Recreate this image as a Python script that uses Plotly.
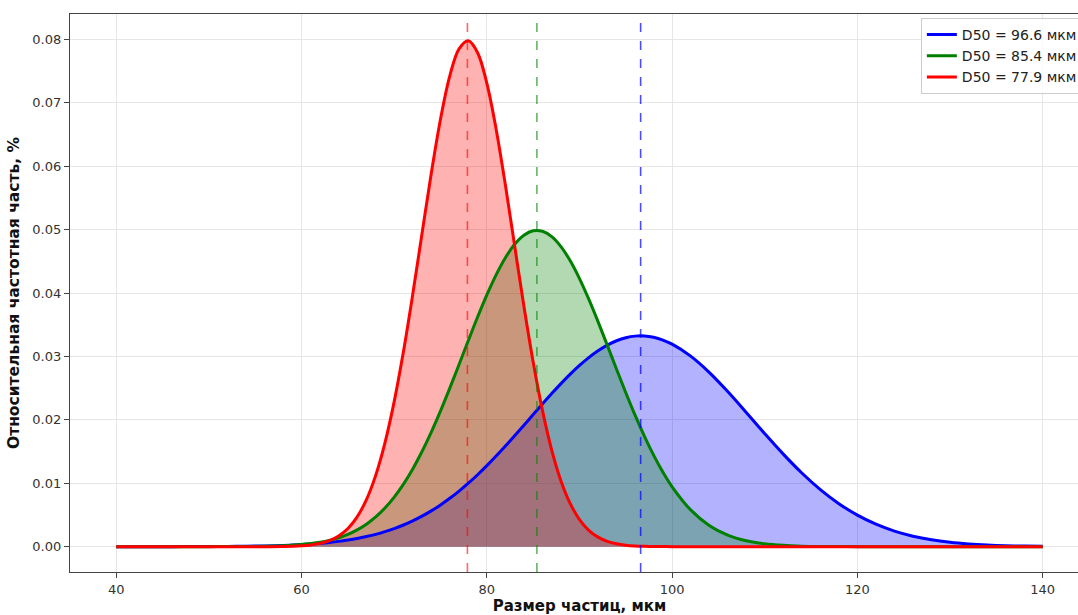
import plotly.graph_objects as go

# Sample positions (particle size, мкм)
x_vals = [40, 42, 44, 46, 48, 50, 52, 54, 56, 58,
          60, 61, 62, 63, 64, 65, 66, 67, 68, 69, 70, 71, 72, 73, 74, 75, 76, 77, 78, 79,
          80, 81, 82, 83, 84, 85, 86, 87, 88, 89, 90, 91, 92, 93, 94, 95, 96, 97, 98, 99, 100,
          102, 104, 106, 108, 110, 112, 114, 116, 118, 120, 122, 124, 126, 128, 130, 132, 134,
          136, 138, 140]

# Blue curve, D50 = 96.6
blue_vals = [0.0, 0.0, 0.0, 0.0, 0.00001, 0.00002, 0.00003, 0.00006, 0.00011, 0.00019,
             0.00032, 0.00041, 0.00052, 0.00066, 0.00083, 0.00104, 0.00129, 0.00159, 0.00194,
             0.00236, 0.00285, 0.00341, 0.00406, 0.00481, 0.00564, 0.00658, 0.00762, 0.00876,
             0.01000, 0.01134, 0.01277, 0.01428, 0.01586, 0.01749, 0.01915, 0.02083, 0.02250,
             0.02414, 0.02571, 0.02720, 0.02857, 0.02981, 0.03088, 0.03178, 0.03247, 0.03295,
             0.03320, 0.03322, 0.03301, 0.03258, 0.03193,
             0.03004, 0.02749, 0.02446, 0.02117, 0.01782, 0.01459, 0.01162, 0.00900, 0.00678,
             0.00497, 0.00354, 0.00245, 0.00165, 0.00108, 0.00069, 0.00043, 0.00026, 0.00015,
             0.00009, 0.00005]

# Green curve, D50 = 85.4
green_vals = [0.0, 0.0, 0.0, 0.0, 0.0, 0.0, 0.00001, 0.00002, 0.00006, 0.00014,
              0.00032, 0.00048, 0.00069, 0.00099, 0.00139, 0.00193, 0.00264, 0.00354, 0.00468,
              0.00610, 0.00782, 0.00987, 0.01226, 0.01500, 0.01807, 0.02142, 0.02500, 0.02873,
              0.03251, 0.03621, 0.03971, 0.04287, 0.04557, 0.04768, 0.04911, 0.04981, 0.04973,
              0.04888, 0.04731, 0.04507, 0.04227, 0.03903, 0.03549, 0.03176, 0.02798, 0.02428,
              0.02073, 0.01743, 0.01443, 0.01175, 0.00943,
              0.00579, 0.00334, 0.00181, 0.00092, 0.00044, 0.00020, 0.00008, 0.00003, 0.00001,
              0.0, 0.0, 0.0, 0.0, 0.0, 0.0, 0.0, 0.0, 0.0, 0.0, 0.0]

# Red curve, D50 = 77.9
red_vals = [0.0, 0.0, 0.0, 0.0, 0.0, 0.0, 0.0, 0.0, 0.0, 0.00002,
            0.00013, 0.00026, 0.00051, 0.00094, 0.00168, 0.00286, 0.00470, 0.00741, 0.01124,
            0.01637, 0.02291, 0.03080, 0.03979, 0.04938, 0.05888, 0.06745, 0.07424, 0.07851,
            0.07978, 0.07789, 0.07306, 0.06584, 0.05702, 0.04744, 0.03792, 0.02912, 0.02149,
            0.01523, 0.01037, 0.00679, 0.00427, 0.00258, 0.00150, 0.00083, 0.00045, 0.00023,
            0.00011, 0.00005, 0.00002, 0.00001, 0.0,
            0.0, 0.0, 0.0, 0.0, 0.0, 0.0, 0.0, 0.0, 0.0,
            0.0, 0.0, 0.0, 0.0, 0.0, 0.0, 0.0, 0.0, 0.0, 0.0, 0.0]

d50_values = [96.6, 85.4, 77.9]
series_names = ["D50 = 96.6 мкм", "D50 = 85.4 мкм", "D50 = 77.9 мкм"]
line_colors = ["#0000ff", "#008000", "#ff0000"]
fill_colors = ["rgba(0,0,255,0.3)", "rgba(0,128,0,0.3)", "rgba(255,0,0,0.3)"]
dash_colors = ["rgba(0,0,255,0.7)", "rgba(0,128,0,0.6)", "rgba(255,0,0,0.6)"]

x_ticks = [40, 60, 80, 100, 120, 140]
y_ticks = [0.0, 0.01, 0.02, 0.03, 0.04, 0.05, 0.06, 0.07, 0.08]

FONT = "DejaVu Sans"
series = [blue_vals, green_vals, red_vals]

fig = go.Figure()
# fills first (under every line)
for vals, fc in zip(series, fill_colors):
    fig.add_trace(go.Scatter(
        x=x_vals, y=vals, mode="lines", showlegend=False, hoverinfo="skip",
        line=dict(width=0, shape="spline", smoothing=1.0, color=fc),
        fill="tozeroy", fillcolor=fc,
    ))
# lines on top
for vals, name, lc in zip(series, series_names, line_colors):
    fig.add_trace(go.Scatter(
        x=x_vals, y=vals, name=name, mode="lines",
        line=dict(color=lc, width=3, shape="spline", smoothing=1.0),
    ))

for d, c in zip(d50_values, dash_colors):
    fig.add_shape(type="line", x0=d, x1=d, y0=0, y1=1, xref="x", yref="paper",
                  line=dict(color=c, width=1.6, dash="dash"), layer="above")

fig.update_layout(
    width=1089, height=615,
    margin=dict(l=70, r=0, t=14, b=43, autoexpand=False),
    paper_bgcolor="white", plot_bgcolor="white",
    font=dict(family=FONT, size=13, color="#333333"),
    showlegend=True,
    legend=dict(
        x=0.835, y=0.993, xanchor="left", yanchor="top",
        bgcolor="rgba(255,255,255,0.8)", bordercolor="#cccccc", borderwidth=1,
        font=dict(family=FONT, size=14, color="#222222"),
        tracegroupgap=0, itemwidth=30,
    ),
)

fig.update_xaxes(
    range=[35, 145], tickvals=x_ticks, ticktext=[str(t) for t in x_ticks],
    automargin=False,
    showgrid=True, gridcolor="#e6e6e6", gridwidth=1, zeroline=False,
    showline=True, linecolor="#444444", linewidth=1.3, mirror=True,
    ticks="outside", ticklen=5, tickcolor="#444444",
    tickfont=dict(family=FONT, size=13, color="#333333"),
    title=dict(text="<b>Размер частиц, мкм</b>", font=dict(family=FONT, size=15, color="#111111"), standoff=1),
)
fig.update_yaxes(
    range=[-0.004, 0.084], tickvals=y_ticks, tickformat=".2f",
    automargin=False,
    showgrid=True, gridcolor="#e6e6e6", gridwidth=1, zeroline=False,
    showline=True, linecolor="#444444", linewidth=1.3, mirror=False,
    ticks="outside", ticklen=5, tickcolor="#444444",
    tickfont=dict(family=FONT, size=13, color="#333333"),
    title=dict(text="<b>Относительная частотная часть, %</b>", font=dict(family=FONT, size=15.5, color="#111111"), standoff=8),
)

fig.write_html(
    "out.html",
    config={"displayModeBar": False},
    post_script="document.body.style.margin='0';document.body.style.overflow='hidden';",
)
